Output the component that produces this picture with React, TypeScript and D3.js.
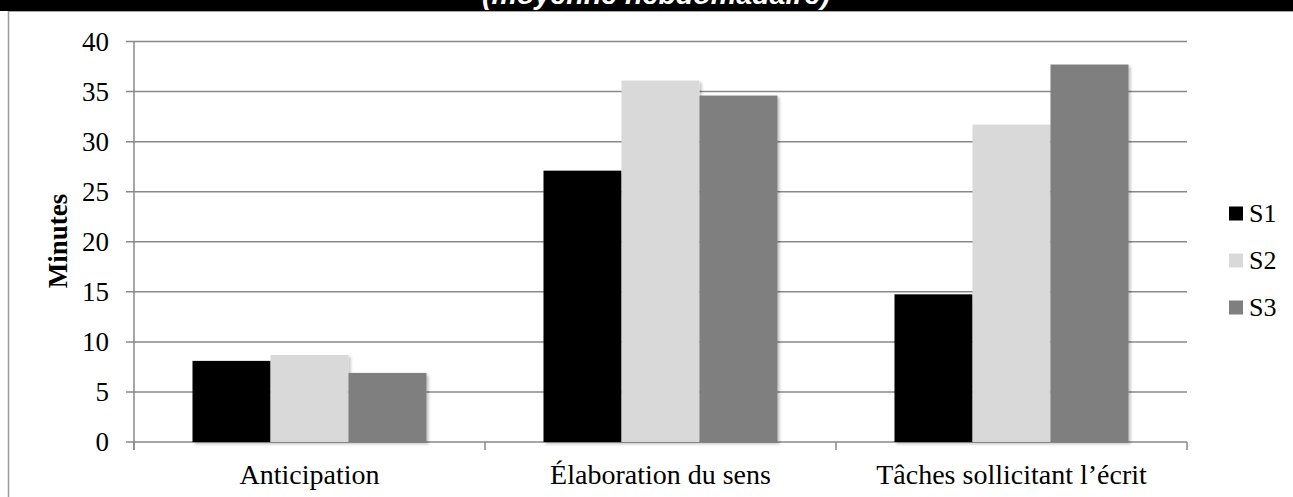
import React, { useEffect, useRef } from "react";
import * as d3 from "d3";

const categories = ["Anticipation", "Élaboration du sens", "Tâches sollicitant l’écrit"];
const seriesNames = ["S1", "S2", "S3"];
const s1 = [8.1, 27.1, 14.75];
const s2 = [8.7, 36.1, 31.7];
const s3 = [6.9, 34.6, 37.7];
const yTicks = [0, 5, 10, 15, 20, 25, 30, 35, 40];
const colors = ["#000000", "#d9d9d9", "#7f7f7f"];

const W = 1293;
const H = 497;

const App = () => {
  const svgRef = useRef<SVGSVGElement>(null);

  useEffect(() => {
    const svg = d3.select(svgRef.current);
    svg.selectAll("*").remove();

    const serif = "'Liberation Serif', 'Times New Roman', serif";
    const gridColor = "#898989";
    const values = [s1, s2, s3];

    const x0 = d3.scaleBand<string>().domain(categories).range([134, 1187]);
    const x1 = d3
      .scaleBand<string>()
      .domain(seriesNames)
      .range([0, x0.bandwidth()])
      .paddingOuter(0.75);
    const y = d3.scaleLinear().domain([0, 40]).range([442, 41.5]);

    // drop shadow for bars
    const defs = svg.append("defs");
    const f = defs
      .append("filter")
      .attr("id", "shadow")
      .attr("x", "-10%")
      .attr("y", "-10%")
      .attr("width", "130%")
      .attr("height", "130%");
    f.append("feDropShadow")
      .attr("dx", 2)
      .attr("dy", 2)
      .attr("stdDeviation", 1.5)
      .attr("flood-color", "#000")
      .attr("flood-opacity", 0.25);

    // top black band + frame
    svg.append("rect").attr("x", 0).attr("y", 0).attr("width", W).attr("height", 11).attr("fill", "#000");
    svg
      .append("line")
      .attr("x1", 8)
      .attr("x2", W)
      .attr("y1", 11.5)
      .attr("y2", 11.5)
      .attr("stroke", "#a6a6a6")
      .attr("stroke-width", 1);
    svg
      .append("line")
      .attr("x1", 8.5)
      .attr("x2", 8.5)
      .attr("y1", 11)
      .attr("y2", H)
      .attr("stroke", "#9a9a9a")
      .attr("stroke-width", 1.5);
    svg
      .append("text")
      .attr("x", 656)
      .attr("y", 4)
      .attr("text-anchor", "middle")
      .attr("font-family", "'Liberation Sans', Arial, sans-serif")
      .attr("font-weight", "bold")
      .attr("font-style", "italic")
      .attr("font-size", 28)
      .attr("textLength", 348)
      .attr("lengthAdjust", "spacingAndGlyphs")
      .attr("fill", "#fff")
      .text("(moyenne hebdomadaire)");

    // gridlines + y ticks
    const yg = svg.append("g");
    yTicks.forEach((t) => {
      yg.append("line")
        .attr("x1", 126)
        .attr("x2", 1187)
        .attr("y1", y(t))
        .attr("y2", y(t))
        .attr("stroke", gridColor)
        .attr("stroke-width", 1.5);
      yg.append("text")
        .attr("x", 109)
        .attr("y", y(t))
        .attr("dy", "0.34em")
        .attr("text-anchor", "end")
        .attr("font-family", serif)
        .attr("font-size", 27)
        .attr("fill", "#000")
        .text(t);
    });
    svg
      .append("line")
      .attr("x1", 134)
      .attr("x2", 134)
      .attr("y1", y(40))
      .attr("y2", 450)
      .attr("stroke", gridColor)
      .attr("stroke-width", 1.5);

    // category ticks
    const bounds = categories.map((c) => x0(c) as number).concat([x0.range()[1]]);
    bounds.forEach((b) => {
      svg
        .append("line")
        .attr("x1", b)
        .attr("x2", b)
        .attr("y1", 442)
        .attr("y2", 450)
        .attr("stroke", gridColor)
        .attr("stroke-width", 1.5);
    });

    // bars
    categories.forEach((c, ci) => {
      const g = svg.append("g").attr("transform", `translate(${x0(c)},0)`);
      seriesNames.forEach((s, si) => {
        const v = values[si][ci];
        g.append("rect")
          .attr("x", x1(s) as number)
          .attr("y", y(v))
          .attr("width", x1.bandwidth())
          .attr("height", y(0) - y(v))
          .attr("fill", colors[si])
          .attr("filter", "url(#shadow)");
      });
      svg
        .append("text")
        .attr("x", (x0(c) as number) + x0.bandwidth() / 2)
        .attr("y", 484)
        .attr("text-anchor", "middle")
        .attr("font-family", serif)
        .attr("font-size", 28)
        .attr("fill", "#000")
        .text(c);
    });

    // y title
    svg
      .append("text")
      .attr("transform", "translate(67,241) rotate(-90)")
      .attr("text-anchor", "middle")
      .attr("font-family", serif)
      .attr("font-weight", "bold")
      .attr("font-size", 27)
      .attr("fill", "#000")
      .text("Minutes");

    // legend
    seriesNames.forEach((s, i) => {
      const cy = 213 + i * 47;
      svg
        .append("rect")
        .attr("x", 1229)
        .attr("y", cy - 6.5)
        .attr("width", 14)
        .attr("height", 14)
        .attr("fill", colors[i]);
      svg
        .append("text")
        .attr("x", 1249)
        .attr("y", cy)
        .attr("dy", "0.34em")
        .attr("font-family", serif)
        .attr("font-size", 26)
        .attr("fill", "#000")
        .text(s);
    });
  }, []);

  return (
    <svg
      ref={svgRef}
      width={W}
      height={H}
      style={{ position: "absolute", left: 0, top: 0, background: "#fff" }}
    />
  );
};

export default App;
